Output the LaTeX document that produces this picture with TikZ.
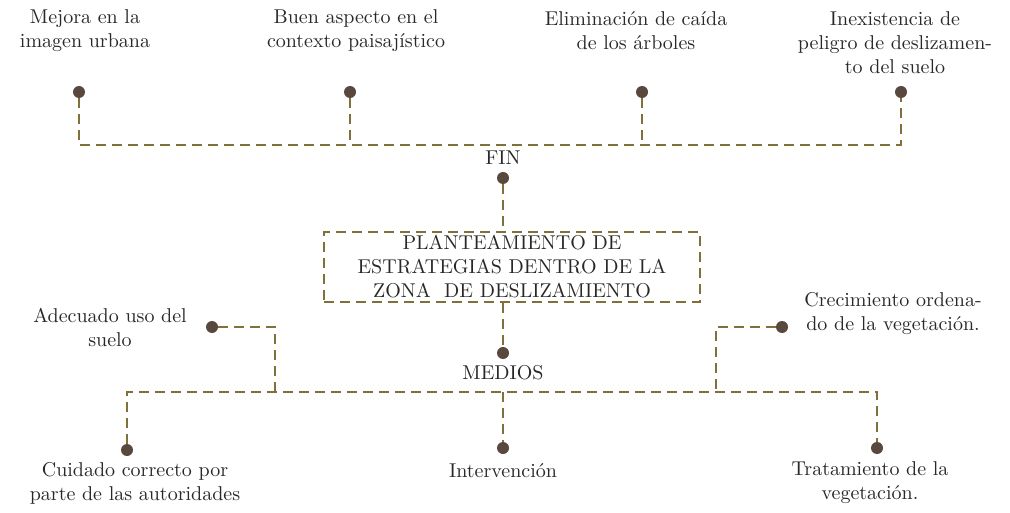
\documentclass[tikz,border=0pt]{standalone}
\usepackage{fontspec}
\usetikzlibrary{positioning}
\definecolor{lineaol}{RGB}{128,112,60}
\definecolor{puntobr}{RGB}{88,72,62}
\definecolor{textogr}{RGB}{40,40,40}
\tikzset{
  linea/.style={draw=lineaol,line width=1.2pt,dash pattern=on 5pt off 3pt},
  punto/.style={circle,fill=puntobr,inner sep=0pt,minimum size=6pt},
  texto/.style={align=center,text=textogr,inner sep=1pt},
}
\begin{document}
\begin{tikzpicture}[x=0.5pt,y=-0.5pt]
  \useasboundingbox (0,0) rectangle (1010,513);
  % fines
  \foreach \n/\x/\tx/\ty/\t in {1/79/85/31/{Mejora en la\\imagen urbana},
      2/350/356/31/{Buen aspecto en el\\contexto paisajístico},
      3/642/636/31/{Eliminación de caída\\de los árboles},
      4/901/895/43/{Inexistencia de\\peligro de deslizamen-\\to del suelo}}
    {\node[punto] (f\n) at (\x,92) {};
     \node[texto] (tf\n) at (\tx,\ty) {\t};}
  \coordinate (hf) at (503,145);
  \node[texto] (fin) at (503,158) {FIN};
  \node[punto] (pf) at (503,178) {};
  \node[texto,linea,minimum width=188pt,minimum height=35pt,inner sep=0pt] (caja) at (512,267)
    {PLANTEAMIENTO DE\\ESTRATEGIAS DENTRO DE LA\\ZONA \ DE DESLIZAMIENTO};
  \node[punto] (pm) at (503,353) {};
  \node[texto] (medios) at (503,373) {MEDIOS};
  \coordinate (hm) at (503,392);
  % medios
  \foreach \n/\x/\y/\tx/\ty/\t in {1/127/450/135/483/{Cuidado correcto por\\parte de las autoridades},
      2/503/448/503/471/{Intervención},
      3/877/448/870/483/{Tratamiento de la\\vegetación.}}
    {\node[punto] (m\n) at (\x,\y) {};
     \node[texto] (tm\n) at (\tx,\ty) {\t};}
  \node[punto] (a1) at (212,327) {};
  \node[texto] (ta1) at (110,327) {Adecuado uso del\\suelo};
  \node[punto] (a2) at (782,327) {};
  \node[texto] (ta2) at (893,314) {Crecimiento ordena-\\do de la vegetación.};
  \coordinate (ca) at (275,392);
  \coordinate (cb) at (716,392);
  % conectores
  \draw[linea] (f1) |- (hf) -| (f4);
  \draw[linea] (f2) -- (f2 |- hf);
  \draw[linea] (f3) -- (f3 |- hf);
  \draw[linea] (pf) -- (pf |- caja.north);
  \draw[linea] (caja.south -| pm) -- (pm);
  \draw[linea] (m1) |- (hm) -| (m3);
  \draw[linea] (hm) -- (m2);
  \draw[linea] (a1) -| (ca);
  \draw[linea] (a2) -| (cb);
\end{tikzpicture}
\end{document}
